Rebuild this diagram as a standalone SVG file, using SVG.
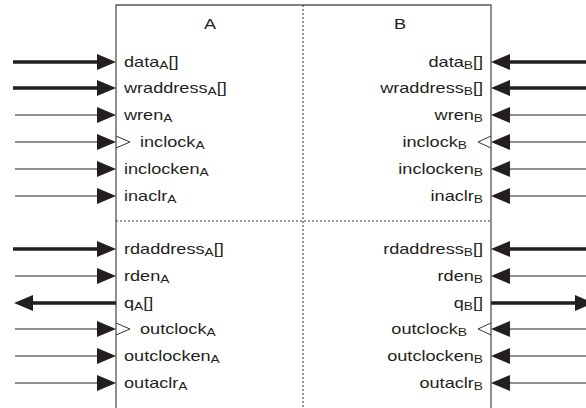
<svg xmlns="http://www.w3.org/2000/svg" width="586" height="408" viewBox="0 0 586 408">
<style>
text{font-family:"Liberation Sans",Arial,sans-serif;font-size:14.5px;fill:#231f20}
.r{text-anchor:end}
.s{font-size:11px}
.thin{stroke:#231f20;stroke-width:1.2;fill:none}
.thick{stroke:#231f20;stroke-width:3.5;fill:none}
.box{stroke:#555;stroke-width:1.3;fill:none}
.dot{stroke:#333;stroke-width:1;stroke-dasharray:2,2;fill:none}
.clk{stroke:#333;stroke-width:1;fill:none}
</style>
<defs>
<marker id="ah" viewBox="0 0 19 16" refX="0" refY="8" markerWidth="19" markerHeight="16" markerUnits="userSpaceOnUse" orient="auto"><path d="M0,0 L19,8 L0,16 z" fill="#231f20"/></marker>
</defs>
<g id="block">
<path class="box" d="M116,408 V5 H491 V408"/>
<path class="dot" d="M303,5 V408 M116,221 H491"/>
<text transform="translate(210,29) scale(1.25,1)" text-anchor="middle" font-size="14">A</text>
<text transform="translate(400,29) scale(1.25,1)" text-anchor="middle" font-size="14">B</text>
<path class="clk" d="M116,136 L130,142 L116,148 M116,323 L130,329 L116,335 M491,136 L478,142 L491,148 M491,323 L478,329 L491,335"/>
</g>
<g id="labels-A" transform="matrix(1.25 0 0 1 -31 0)">
<text x="124" y="67">data<tspan class="s" dy="2.5">A</tspan><tspan dy="-2.5">[]</tspan></text>
<text x="124" y="93">wraddress<tspan class="s" dy="2.5">A</tspan><tspan dy="-2.5">[]</tspan></text>
<text x="124" y="120">wren<tspan class="s" dy="2.5">A</tspan></text>
<text x="136.8" y="147">inclock<tspan class="s" dy="2.5">A</tspan></text>
<text x="124" y="174">inclocken<tspan class="s" dy="2.5">A</tspan></text>
<text x="124" y="201">inaclr<tspan class="s" dy="2.5">A</tspan></text>
<text x="124" y="254">rdaddress<tspan class="s" dy="2.5">A</tspan><tspan dy="-2.5">[]</tspan></text>
<text x="124" y="281">rden<tspan class="s" dy="2.5">A</tspan></text>
<text x="124" y="308">q<tspan class="s" dy="2.5">A</tspan><tspan dy="-2.5">[]</tspan></text>
<text x="136.8" y="334">outclock<tspan class="s" dy="2.5">A</tspan></text>
<text x="124" y="361">outclocken<tspan class="s" dy="2.5">A</tspan></text>
<text x="124" y="388">outaclr<tspan class="s" dy="2.5">A</tspan></text>
</g>
<g id="labels-B" transform="matrix(1.25 0 0 1 -120.75 0)">
<text class="r" x="483" y="67">data<tspan class="s" dy="2.5">B</tspan><tspan dy="-2.5">[]</tspan></text>
<text class="r" x="483" y="93">wraddress<tspan class="s" dy="2.5">B</tspan><tspan dy="-2.5">[]</tspan></text>
<text class="r" x="483" y="120">wren<tspan class="s" dy="2.5">B</tspan></text>
<text class="r" x="470.2" y="147">inclock<tspan class="s" dy="2.5">B</tspan></text>
<text class="r" x="483" y="174">inclocken<tspan class="s" dy="2.5">B</tspan></text>
<text class="r" x="483" y="201">inaclr<tspan class="s" dy="2.5">B</tspan></text>
<text class="r" x="483" y="254">rdaddress<tspan class="s" dy="2.5">B</tspan><tspan dy="-2.5">[]</tspan></text>
<text class="r" x="483" y="281">rden<tspan class="s" dy="2.5">B</tspan></text>
<text class="r" x="483" y="308">q<tspan class="s" dy="2.5">B</tspan><tspan dy="-2.5">[]</tspan></text>
<text class="r" x="470.2" y="334">outclock<tspan class="s" dy="2.5">B</tspan></text>
<text class="r" x="483" y="361">outclocken<tspan class="s" dy="2.5">B</tspan></text>
<text class="r" x="483" y="388">outaclr<tspan class="s" dy="2.5">B</tspan></text>
</g>
<g id="connectors">
<path class="thick" marker-end="url(#ah)" d="M13,62 H97"/>
<path class="thick" marker-end="url(#ah)" d="M13,88 H97"/>
<path class="thin" marker-end="url(#ah)" d="M15,115 H97"/>
<path class="thin" marker-end="url(#ah)" d="M15,142 H97"/>
<path class="thin" marker-end="url(#ah)" d="M15,169 H97"/>
<path class="thin" marker-end="url(#ah)" d="M15,196 H97"/>
<path class="thick" marker-end="url(#ah)" d="M13,249 H97"/>
<path class="thin" marker-end="url(#ah)" d="M15,276 H97"/>
<path class="thick" marker-end="url(#ah)" d="M116,303 H33"/>
<path class="thin" marker-end="url(#ah)" d="M15,329 H97"/>
<path class="thin" marker-end="url(#ah)" d="M15,356 H97"/>
<path class="thin" marker-end="url(#ah)" d="M15,383 H97"/>
<path class="thick" marker-end="url(#ah)" d="M586,62 H510"/>
<path class="thick" marker-end="url(#ah)" d="M586,88 H510"/>
<path class="thin" marker-end="url(#ah)" d="M586,115 H510"/>
<path class="thin" marker-end="url(#ah)" d="M586,142 H510"/>
<path class="thin" marker-end="url(#ah)" d="M586,169 H510"/>
<path class="thin" marker-end="url(#ah)" d="M586,196 H510"/>
<path class="thick" marker-end="url(#ah)" d="M586,249 H510"/>
<path class="thin" marker-end="url(#ah)" d="M586,276 H510"/>
<path class="thick" marker-end="url(#ah)" d="M491,303 H575"/>
<path class="thin" marker-end="url(#ah)" d="M586,329 H510"/>
<path class="thin" marker-end="url(#ah)" d="M586,356 H510"/>
<path class="thin" marker-end="url(#ah)" d="M586,383 H510"/>
</g>
</svg>
